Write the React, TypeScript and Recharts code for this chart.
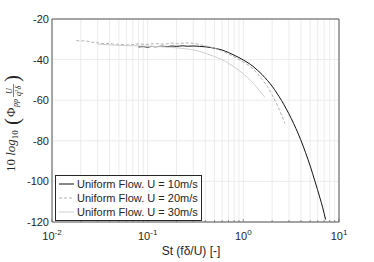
import React from 'react';
import { LineChart, Line, XAxis, YAxis, CartesianGrid, ReferenceLine, Legend } from 'recharts';

// Strouhal number axis (log), decades carry labels
const stTicks = [
  0.01, 0.02, 0.03, 0.04, 0.05, 0.06, 0.07, 0.08, 0.09,
  0.1, 0.2, 0.3, 0.4, 0.5, 0.6, 0.7, 0.8, 0.9,
  1, 2, 3, 4, 5, 6, 7, 8, 9, 10,
];
const decadeLabels: Record<string, string> = { '0.01': '-2', '0.1': '-1', '1': '0', '10': '1' };
const psdTicks = [-120, -100, -80, -60, -40, -20];

const st10 = [0.08, 0.09, 0.1, 0.11, 0.12, 0.14, 0.16, 0.18, 0.2, 0.23, 0.26, 0.3, 0.35, 0.4, 0.45, 0.5, 0.6, 0.7, 0.8, 0.9, 1.0, 1.12, 1.26, 1.41, 1.58, 1.78, 2.0, 2.24, 2.51, 2.82, 3.16, 3.55, 3.98, 4.47, 5.01, 5.62, 6.31, 6.76, 7.24];
const psd10 = [-33.8, -33.6, -33.9, -33.5, -33.7, -33.4, -33.6, -33.3, -33.5, -33.2, -33.4, -33.3, -33.5, -33.7, -34.0, -34.4, -35.3, -36.5, -37.8, -39.0, -40.2, -41.6, -43.3, -45.3, -47.5, -50.2, -53.1, -56.5, -60.2, -64.4, -68.9, -74.0, -79.5, -85.8, -92.5, -100.1, -108.0, -113.0, -118.8];

const st20 = [0.018, 0.02, 0.022, 0.025, 0.028, 0.032, 0.036, 0.04, 0.045, 0.05, 0.06, 0.07, 0.08, 0.1, 0.12, 0.15, 0.18, 0.2, 0.25, 0.3, 0.35, 0.4, 0.5, 0.6, 0.7, 0.8, 0.9, 1.0, 1.26, 1.58, 1.78, 2.0, 2.24, 2.51, 2.72];
const psd20 = [-30.6, -30.9, -30.7, -31.3, -31.6, -31.9, -32.2, -32.0, -32.5, -32.4, -32.8, -32.6, -32.3, -32.5, -32.1, -32.4, -31.9, -32.2, -31.8, -32.0, -32.6, -33.2, -34.4, -35.8, -37.2, -38.6, -39.9, -41.2, -44.6, -49.9, -53.2, -57.4, -62.0, -67.3, -71.5];

const st30 = [0.03, 0.04, 0.05, 0.07, 0.1, 0.13, 0.17, 0.2, 0.25, 0.3, 0.4, 0.5, 0.6, 0.7, 0.8, 0.9, 1.0, 1.1, 1.2, 1.3, 1.4, 1.5, 1.6, 1.68];
const psd30 = [-32.4, -32.7, -33.0, -33.2, -33.4, -33.6, -33.9, -34.2, -34.7, -35.2, -36.9, -38.5, -40.1, -41.8, -43.6, -45.3, -47.0, -48.7, -50.4, -52.2, -54.0, -55.7, -57.3, -58.6];

const toRows = (xs: number[], ys: number[]) => xs.map((st, i) => ({ st, psd: ys[i] }));

const series = [
  { name: 'Uniform Flow. U = 10m/s', data: toRows(st10, psd10), color: '#111111', dash: undefined },
  { name: 'Uniform Flow. U = 20m/s', data: toRows(st20, psd20), color: '#b0b0b0', dash: '3 2' },
  { name: 'Uniform Flow. U = 30m/s', data: toRows(st30, psd30), color: '#cfcfcf', dash: undefined },
];

const sans = '"Liberation Sans", Arial, Helvetica, sans-serif';
const serif = '"Liberation Serif", "Times New Roman", serif';
const ink = '#262626';

function StTick(props: any) {
  const { x, y, payload } = props;
  const exp = decadeLabels[String(payload.value)];
  return (
    <g>
      <line x1={x} x2={x} y1={y} y2={y - (exp ? 3 : 2)} stroke="#666" strokeWidth={0.7} />
      {exp !== undefined && (
        <text x={x} y={y + 18} textAnchor="middle" fontFamily={sans} fontSize={11} fill={ink}>
          10<tspan dy={-5} fontSize={8}>{exp}</tspan>
        </text>
      )}
    </g>
  );
}

// rotated math label: 10 log10( Phi_pp U/(q^2 delta) )
function YLabel() {
  return (
    <g transform="translate(15,172) rotate(-90)" fontFamily={serif} fill={ink}>
      <text x={0} y={0} fontSize={13}>
        10 <tspan fontStyle="italic">log</tspan>
        <tspan dy={3} fontSize={9}>10</tspan>
      </text>
      <text x={47} y={4} fontSize={21}>(</text>
      <text x={55} y={0} fontSize={13}>Φ</text>
      <text x={65} y={3} fontSize={8} fontStyle="italic">pp</text>
      <text x={81} y={-3} fontSize={8} fontStyle="italic" textAnchor="middle">U</text>
      <line x1={75} x2={88} y1={-1.5} y2={-1.5} stroke={ink} strokeWidth={0.6} />
      <text x={81} y={6} fontSize={8} fontStyle="italic" textAnchor="middle">
        q<tspan fontSize={5} dy={-3} fontStyle="normal">2</tspan><tspan dy={3}>δ</tspan>
      </text>
      <text x={90} y={4} fontSize={21}>)</text>
    </g>
  );
}

function LegendBox() {
  return (
    <div
      style={{
        background: '#fff',
        border: `1px solid ${ink}`,
        padding: '1px 3px 1px 2px',
        fontFamily: sans,
        fontSize: 11,
        color: ink,
        lineHeight: '14px',
        whiteSpace: 'nowrap',
      }}
    >
      {series.map((s) => (
        <div key={s.name} style={{ display: 'flex', alignItems: 'center' }}>
          <svg width={17} height={10} style={{ marginRight: 2 }}>
            <line x1={1} x2={16} y1={5} y2={5} stroke={s.color} strokeWidth={1} strokeDasharray={s.dash} />
          </svg>
          <span>{s.name}</span>
        </div>
      ))}
    </div>
  );
}

export default function App() {
  return (
    <div style={{ position: 'absolute', left: 0, top: 0, width: 374, height: 262, background: '#fff' }}>
      <LineChart width={374} height={262} margin={{ top: 19, right: 35, left: 0, bottom: 0 }}>
        <CartesianGrid stroke="#ececec" strokeWidth={1} />
        <XAxis
          dataKey="st"
          type="number"
          scale="log"
          domain={[0.01, 10]}
          allowDataOverflow
          ticks={stTicks}
          interval={0}
          tickLine={false}
          tickSize={0}
          tickMargin={0}
          height={40}
          axisLine={{ stroke: '#555', strokeWidth: 1 }}
          tick={<StTick />}
          label={{
            content: () => (
              <text x={191} y={255} textAnchor="middle" fontFamily={sans} fontSize={12} fill={ink}>
                St (fδ/U) [-]
              </text>
            ),
          }}
        />
        <YAxis
          type="number"
          domain={[-120, -20]}
          ticks={psdTicks}
          interval={0}
          width={52}
          tickLine={false}
          tickSize={0}
          tickMargin={3}
          axisLine={{ stroke: '#555', strokeWidth: 1 }}
          tick={{ fontFamily: sans, fontSize: 11, fill: ink }}
          label={{ content: () => <YLabel /> }}
        />
        <ReferenceLine y={-20} stroke="#555" strokeWidth={1} />
        <ReferenceLine x={10} stroke="#555" strokeWidth={1} />
        {series.map((s) => (
          <Line
            key={s.name}
            data={s.data}
            dataKey="psd"
            name={s.name}
            type="monotone"
            stroke={s.color}
            strokeWidth={1}
            strokeDasharray={s.dash}
            dot={false}
            isAnimationActive={false}
          />
        ))}
        <Legend
          layout="vertical"
          align="center"
          verticalAlign="middle"
          content={() => <LegendBox />}
          wrapperStyle={{ position: 'absolute', left: 55, top: 175, width: 'auto' }}
        />
      </LineChart>
    </div>
  );
}
